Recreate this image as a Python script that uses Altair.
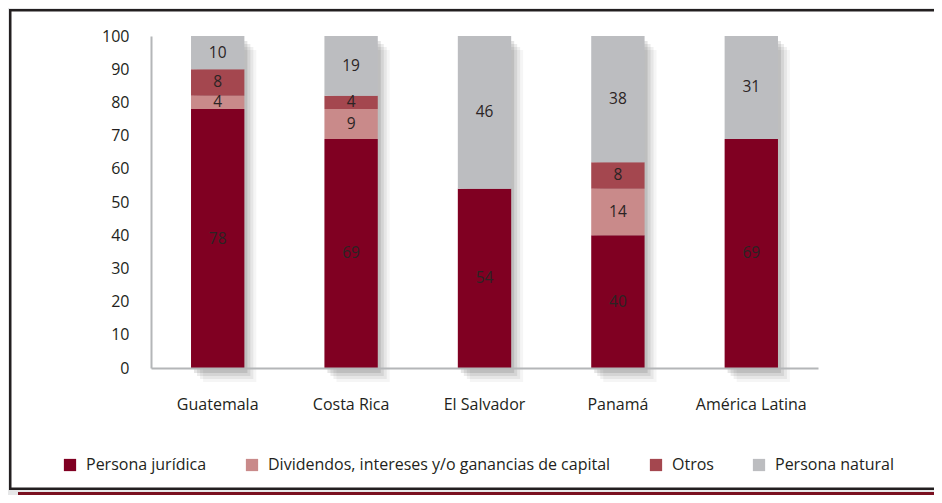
import altair as alt
import pandas as pd

paises = ["Guatemala", "Costa Rica", "El Salvador", "Panamá", "América Latina"]
series = ["Persona jurídica", "Dividendos, intereses y/o ganancias de capital", "Otros", "Persona natural"]
persona_juridica = [78, 69, 54, 40, 69]
dividendos = [4, 9, 0, 14, 0]
otros = [8, 4, 0, 8, 0]
persona_natural = [10, 19, 46, 38, 31]
colores = ["#800022", "#c98a8a", "#a4474f", "#bcbdc0"]
y_ticks = [0, 10, 20, 30, 40, 50, 60, 70, 80, 90, 100]

FONT = "Open Sans"

rows = []
for i, p in enumerate(paises):
    for k, (s, vals) in enumerate(zip(series, [persona_juridica, dividendos, otros, persona_natural])):
        if vals[i] > 0:
            rows.append({"pais": p, "serie": s, "value": vals[i], "orden": k})
df = pd.DataFrame(rows)
shadow_df = pd.DataFrame({"pais": paises, "total": [100] * len(paises)})
dummy = pd.DataFrame({"a": [0]})

W, H = 667, 332

x_enc = alt.X("pais:N", sort=paises,
              scale=alt.Scale(paddingInner=0.6, paddingOuter=0.3),
              axis=alt.Axis(title=None, labelAngle=0, labelFontSize=16, labelPadding=28,
                            labelColor="#231f20", ticks=False, domainColor="#b4b6b8",
                            domainWidth=2, labelFont=FONT, zindex=1))
y_scale = alt.Scale(domain=[0, 100], nice=False)
y_axis = alt.Axis(title=None, values=y_ticks, labelFontSize=16, labelPadding=22, ticks=False,
                  grid=False, domainColor="#b4b6b8", domainWidth=2, labelColor="#231f20",
                  labelFont=FONT, zindex=1, labelOverlap=False)

frame_out = alt.Chart(dummy).mark_rect(fill="#231f20").encode(
    x=alt.value(-142), x2=alt.value(W + 300), y=alt.value(-27), y2=alt.value(454))
frame_in = alt.Chart(dummy).mark_rect(fill="white").encode(
    x=alt.value(-139.5), x2=alt.value(W + 300), y=alt.value(-24.5), y2=alt.value(451.5))
band = alt.Chart(dummy).mark_rect(fill="#7a1020").encode(
    x=alt.value(-133), x2=alt.value(W + 300), y=alt.value(456), y2=alt.value(465))

shadows = []
for off, op in [(3, 0.10), (6, 0.08), (9, 0.06), (12, 0.04)]:
    shadows.append(
        alt.Chart(shadow_df).mark_bar(color="#000000", opacity=op, xOffset=off, yOffset=off + 2).encode(
            x=x_enc, y=alt.Y("total:Q", scale=y_scale, axis=y_axis)))

base = alt.Chart(df).transform_stack(
    stack="value", groupby=["pais"], as_=["y0", "y1"], sort=[alt.SortField("orden")]
).transform_calculate(
    y1c="min(datum.y1, 100)", mid="(datum.y0 + min(datum.y1, 100)) / 2"
)

bars = base.mark_bar(clip=True).encode(
    x=x_enc,
    y=alt.Y("y0:Q", scale=y_scale, axis=y_axis),
    y2="y1c:Q",
    color=alt.Color("serie:N", scale=alt.Scale(domain=series, range=colores),
                    legend=alt.Legend(title=None, orient="none", direction="horizontal",
                                      legendX=-89, legendY=421, symbolType="square", symbolSize=150,
                                      symbolStrokeWidth=0, labelFontSize=16, labelFont=FONT,
                                      labelColor="#231f20", columnPadding=37, labelOffset=8,
                                      labelLimit=500, zindex=1)),
    order="orden:Q",
)

labels = base.mark_text(fontSize=15.5, color="#2b2424", font=FONT, baseline="middle").encode(
    x=x_enc, y=alt.Y("mid:Q", scale=y_scale, axis=y_axis), text=alt.Text("value:Q", format="d"))

chart = alt.layer(frame_out, frame_in, band, *shadows, bars, labels).properties(
    width=W, height=H,
    autosize=alt.AutoSizeParams(type="none"),
    padding={"left": 143, "top": 28, "right": 116, "bottom": 127},
    background="#e6e7e8",
).configure_view(strokeWidth=0).configure(font=FONT)

chart.save("out.html", embed_options={"renderer": "svg", "actions": False})
